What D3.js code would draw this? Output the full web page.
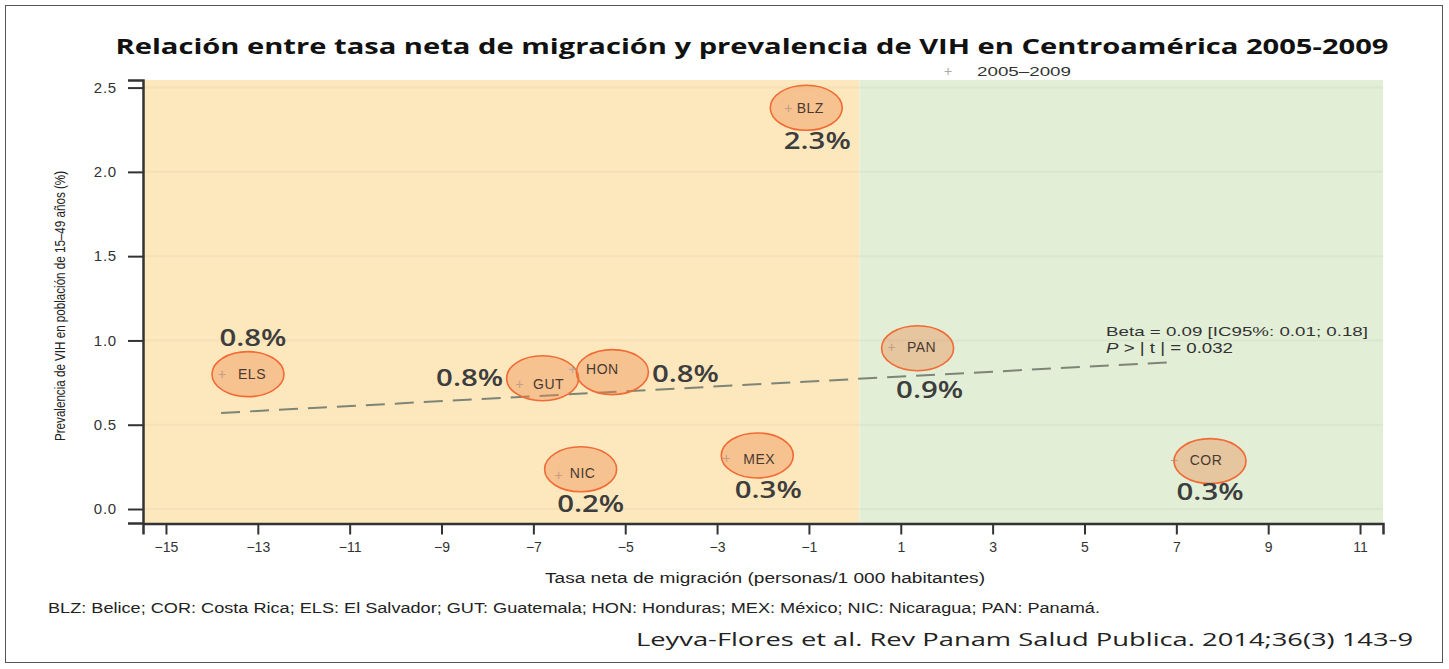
<!DOCTYPE html>
<html>
<head>
<meta charset="utf-8">
<script src="https://cdn.jsdelivr.net/npm/d3@7"></script>
<style>
  body { margin: 0; background: #fff; }
  svg { display: block; }
</style>
</head>
<body>
<div id="chart"></div>
<script>
// data
const countries = ['ELS', 'GUT', 'HON', 'NIC', 'MEX', 'BLZ', 'PAN', 'COR'];
const migration = [-13.78, -7.3, -6.15, -6.45, -2.8, -1.45, 0.8, 6.95];
const prevalence = [0.80, 0.74, 0.83, 0.20, 0.30, 2.38, 0.96, 0.29];
const percentLabels = ['0.8%', '0.8%', '0.8%', '0.2%', '0.3%', '2.3%', '0.9%', '0.3%'];
const xTicks = [-15, -13, -11, -9, -7, -5, -3, -1, 1, 3, 5, 7, 9, 11];
const yTicks = [0, 0.5, 1, 1.5, 2, 2.5];
const trendX = [-13.8, 6.8];
const trendY = [0.57, 0.87];
const regions = [
  { name: 'emigration', from: -15.5, to: 0.1 },
  { name: 'immigration', from: 0.1, to: 11.5 },
];

const width = 1449;
const height = 669;
const margin = { top: 80, right: 66, bottom: 146, left: 143 };

// annotation layout (pixel offsets from each point)
const bubbleOffset = {
  ELS: [26, 0], GUT: [23, -6], HON: [40, 3], NIC: [22, -6],
  MEX: [31, -3], BLZ: [18, 0], PAN: [26, 1], COR: [36, 1],
};
const codeOffset = {
  ELS: [30, 0], GUT: [29, 0], HON: [30, 0], NIC: [24, -2],
  MEX: [33, 1], BLZ: [22, 0], PAN: [30, 0], COR: [32, 0],
};
const pctOffset = {
  ELS: [31, -36], GUT: [-50, -6], HON: [113, 5], NIC: [32, 29],
  MEX: [42, 32], BLZ: [29, 33], PAN: [38, 43], COR: [36, 32],
};

const x = d3.scaleLinear()
  .domain([-15.5, 11.5])
  .range([margin.left, width - margin.right]);

const y = d3.scaleLinear()
  .domain([-0.083, 2.545])
  .range([height - margin.bottom, margin.top]);

const svg = d3.select('#chart')
  .append('svg')
  .attr('width', width)
  .attr('height', height);

svg.append('rect')
  .attr('x', 5.5).attr('y', 5.5)
  .attr('width', width - 12).attr('height', height - 12)
  .attr('fill', '#fff')
  .attr('stroke', '#555')
  .attr('stroke-width', 1);

function fit(sel, len) {
  sel.attr('textLength', len).attr('lengthAdjust', 'spacingAndGlyphs');
}

// title
svg.append('text')
  .attr('x', 752).attr('y', 54)
  .attr('text-anchor', 'middle')
  .attr('font-family', 'Open Sans')
  .attr('font-weight', 700)
  .attr('font-size', 22)
  .attr('fill', '#111')
  .text('Relación entre tasa neta de migración y prevalencia de VIH en Centroamérica 2005-2009')
  .call(fit, 1273);

// background regions
svg.append('g')
  .selectAll('rect')
  .data(regions)
  .enter()
  .append('rect')
  .attr('x', d => x(d.from))
  .attr('y', y.range()[1])
  .attr('width', d => x(d.to) - x(d.from))
  .attr('height', y.range()[0] - y.range()[1])
  .attr('fill', d => (d.name === 'emigration' ? '#fde8bd' : '#e2eed6'));

// faint grid
svg.append('g')
  .selectAll('line')
  .data(yTicks)
  .enter()
  .append('line')
  .attr('x1', x.range()[0])
  .attr('x2', x.range()[1])
  .attr('y1', d => y(d))
  .attr('y2', d => y(d))
  .attr('stroke', '#000')
  .attr('stroke-opacity', 0.03)
  .attr('stroke-width', 2);

// legend
svg.append('text')
  .attr('x', 948).attr('y', 76)
  .attr('text-anchor', 'middle')
  .attr('font-family', 'Liberation Sans')
  .attr('font-size', 14)
  .attr('fill', '#aaa')
  .text('+');
svg.append('text')
  .attr('x', 977).attr('y', 76)
  .attr('font-family', 'Liberation Sans')
  .attr('font-size', 13)
  .attr('fill', '#333')
  .text('2005–2009')
  .call(fit, 94);

// axes
const formatTick = d => (d < 0 ? '−' + Math.abs(d) : String(d));

const xAxis = svg.append('g')
  .attr('transform', `translate(0, ${y.range()[0] + 0.5})`)
  .call(d3.axisBottom(x).tickValues(xTicks).tickFormat(formatTick).tickSize(11).tickPadding(8));
xAxis.select('.domain').attr('stroke', '#333').attr('stroke-width', 2.5);
xAxis.selectAll('.tick line').attr('stroke', '#333').attr('stroke-width', 2);
xAxis.selectAll('.tick text')
  .attr('font-family', 'Liberation Sans')
  .attr('font-size', 14)
  .attr('fill', '#333');

const yAxis = svg.append('g')
  .attr('transform', `translate(${x.range()[0]}, 0)`)
  .call(d3.axisLeft(y).tickValues(yTicks).tickFormat(d3.format('.1f')).tickSize(15).tickPadding(11));
yAxis.select('.domain').attr('stroke', '#333').attr('stroke-width', 2.5);
yAxis.selectAll('.tick line').attr('stroke', '#333').attr('stroke-width', 2);
yAxis.selectAll('.tick text')
  .attr('font-family', 'Liberation Sans')
  .attr('font-size', 15)
  .attr('letter-spacing', 0.8)
  .attr('fill', '#333');

svg.append('text')
  .attr('transform', 'translate(65, 306) rotate(-90)')
  .attr('text-anchor', 'middle')
  .attr('font-family', 'Liberation Sans')
  .attr('font-size', 15)
  .attr('fill', '#222')
  .text('Prevalencia de VIH en población de 15–49 años (%)')
  .call(fit, 270);

svg.append('text')
  .attr('x', 765).attr('y', 583)
  .attr('text-anchor', 'middle')
  .attr('font-family', 'Liberation Sans')
  .attr('font-size', 14)
  .attr('fill', '#222')
  .text('Tasa neta de migración (personas/1 000 habitantes)')
  .call(fit, 440);

// trend line
svg.append('path')
  .datum(trendX.map((d, i) => [d, trendY[i]]))
  .attr('fill', 'none')
  .attr('stroke', '#7d8577')
  .attr('stroke-width', 2)
  .attr('stroke-dasharray', '19 10')
  .attr('d', d3.line().x(d => x(d[0])).y(d => y(d[1])));

svg.append('text')
  .attr('x', 1106).attr('y', 336)
  .attr('font-family', 'Liberation Sans')
  .attr('font-size', 13)
  .attr('fill', '#333')
  .text('Beta = 0.09 [IC95%: 0.01; 0.18]')
  .call(fit, 262);

const pText = svg.append('text')
  .attr('x', 1106).attr('y', 353)
  .attr('font-family', 'Liberation Sans')
  .attr('font-size', 14)
  .attr('fill', '#333');
pText.append('tspan').attr('font-style', 'italic').text('P');
pText.append('tspan').text(' > | t | = 0.032');
pText.call(fit, 127);

// points
const points = countries.map((c, i) => ({
  code: c, mx: migration[i], pv: prevalence[i], pct: percentLabels[i],
}));

const pg = svg.append('g')
  .selectAll('g')
  .data(points)
  .enter()
  .append('g')
  .attr('transform', d => `translate(${x(d.mx)}, ${y(d.pv)})`);

pg.append('text')
  .attr('text-anchor', 'middle')
  .attr('dy', 5)
  .attr('font-family', 'Liberation Sans')
  .attr('font-size', 14)
  .attr('fill', '#aaa')
  .text('+');

pg.append('ellipse')
  .attr('cx', d => bubbleOffset[d.code][0])
  .attr('cy', d => bubbleOffset[d.code][1])
  .attr('rx', 36)
  .attr('ry', 22.5)
  .attr('fill', 'rgb(236, 138, 78)')
  .attr('fill-opacity', 0.4)
  .attr('stroke', '#f26a35')
  .attr('stroke-width', 1.6);

pg.append('text')
  .attr('x', d => codeOffset[d.code][0])
  .attr('y', d => codeOffset[d.code][1])
  .attr('dy', 5)
  .attr('text-anchor', 'middle')
  .attr('font-family', 'Liberation Sans')
  .attr('font-size', 14)
  .attr('letter-spacing', 0.5)
  .attr('fill', '#4a3a30')
  .text(d => d.code);

pg.append('text')
  .attr('x', d => pctOffset[d.code][0])
  .attr('y', d => pctOffset[d.code][1])
  .attr('dy', 8)
  .attr('text-anchor', 'middle')
  .attr('font-family', 'Open Sans')
  .attr('font-weight', 600)
  .attr('font-size', 23)
  .attr('fill', '#3d3d3d')
  .text(d => d.pct)
  .call(fit, 67);

// footnote + source
svg.append('text')
  .attr('x', 48).attr('y', 613)
  .attr('font-family', 'Liberation Sans')
  .attr('font-size', 14)
  .attr('fill', '#222')
  .text('BLZ: Belice; COR: Costa Rica; ELS: El Salvador; GUT: Guatemala; HON: Honduras; MEX: México; NIC: Nicaragua; PAN: Panamá.')
  .call(fit, 1052);

svg.append('text')
  .attr('x', 1413).attr('y', 646)
  .attr('text-anchor', 'end')
  .attr('font-family', 'Open Sans')
  .attr('font-size', 19)
  .attr('fill', '#222')
  .text('Leyva-Flores et al. Rev Panam Salud Publica. 2014;36(3) 143-9')
  .call(fit, 777);
</script>
</body>
</html>
